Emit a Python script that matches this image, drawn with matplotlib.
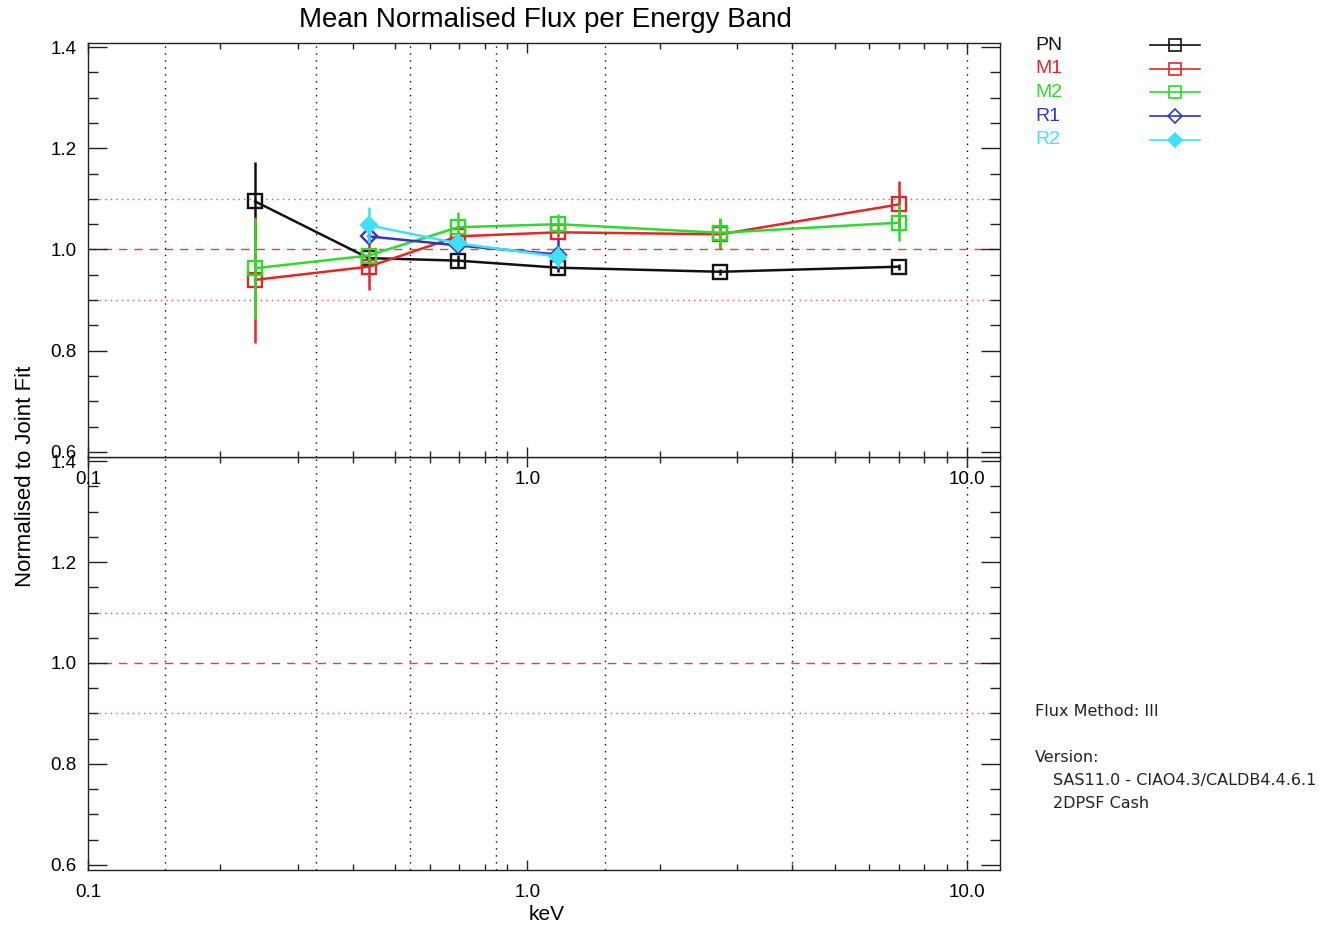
import numpy as np
import matplotlib
matplotlib.use("Agg")
import matplotlib.pyplot as plt
from matplotlib.lines import Line2D
from matplotlib.ticker import LogLocator, FixedLocator, MultipleLocator, NullFormatter

plt.rcParams['font.family'] = ['Liberation Sans', 'DejaVu Sans']

# band edges (keV) and band centres
edges = [0.15, 0.33, 0.54, 0.85, 1.5, 4.0, 10.0]
e_all = [0.24, 0.435, 0.695, 1.175, 2.75, 7.0]
e_rgs = [0.435, 0.695, 1.175]

pn = [1.095, 0.983, 0.978, 0.964, 0.956, 0.966]
pn_err = [0.077, 0.010, 0.012, 0.008, 0.006, 0.006]
m1 = [0.940, 0.966, 1.026, 1.034, 1.030, 1.089]
m1_err = [0.125, 0.047, 0.010, 0.010, 0.030, 0.047]
m2 = [0.963, 0.988, 1.044, 1.050, 1.033, 1.053]
m2_err = [0.100, 0.010, 0.030, 0.020, 0.030, 0.037]
r1 = [1.026, 1.008, 0.990]
r1_err = [0.010, 0.010, 0.030]
r2 = [1.048, 1.012, 0.986]
r2_err = [0.035, 0.010, 0.020]

names = ['PN', 'M1', 'M2', 'R1', 'R2']
cols = ['#111111', '#e02828', '#30d830', '#3434c0', '#40e0f8']
marks = ['s', 's', 's', 'D', 'D']

fig = plt.figure(figsize=(13.28, 9.27), dpi=100)
L, R = 88/1328, 1000/1328
ax1 = fig.add_axes([L, 1-457/927, R-L, (457-43)/927])
ax2 = fig.add_axes([L, 1-870/927, R-L, (870-457)/927])
ax2.patch.set_visible(False)
ax1.set_zorder(3)

for ax in (ax1, ax2):
    ax.set_xscale('log')
    ax.set_xlim(0.1, 11.9)
    ax.set_ylim(0.59, 1.408)
    for e in edges:
        ax.axvline(e, color='black', ls=(0, (1, 4)), lw=1.0, zorder=1)
    ax.axhline(1.1, color='#e05050', ls=(0, (1, 3)), lw=1.0, zorder=1)
    ax.axhline(0.9, color='#e05050', ls=(0, (1, 3)), lw=1.0, zorder=1)
    ax.axhline(1.0, color='#c05050', ls=(0, (6, 5)), lw=1.0, zorder=1)
    ax.xaxis.set_major_locator(FixedLocator([0.1, 1.0, 10.0]))
    ax.set_xticklabels(['0.1', '1.0', '10.0'])
    ax.xaxis.set_minor_locator(LogLocator(base=10, subs=np.arange(2, 10)))
    ax.xaxis.set_minor_formatter(NullFormatter())
    ax.yaxis.set_major_locator(MultipleLocator(0.2))
    ax.yaxis.set_minor_locator(MultipleLocator(0.05))
    ax.tick_params(axis='both', which='both', direction='in', top=True, right=True,
                   labelsize=13.5, color='#222222', width=1.0)
    ax.tick_params(axis='y', which='major', length=14, pad=8)
    ax.tick_params(axis='y', which='minor', length=7)
    ax.tick_params(axis='x', which='major', length=7, pad=10)
    ax.tick_params(axis='x', which='minor', length=4)
    for s in ax.spines.values():
        s.set_linewidth(1.0)
        s.set_color('#222222')
    ax.set_yticks([0.6, 0.8, 1.0, 1.2, 1.4])
    ax.set_yticklabels(['0.6', '0.8', '1.0', '1.2', '1.4'])

series = [(e_all, pn, pn_err), (e_all, m1, m1_err), (e_all, m2, m2_err),
          (e_rgs, r1, r1_err), (e_rgs, r2, r2_err)]
for i, (x, y, err) in enumerate(series):
    ms = 10 if marks[i] == 's' else 8
    fc = cols[i] if names[i] == 'R2' else 'none'
    ax1.errorbar(x, y, yerr=err, color=cols[i], lw=1.8, elinewidth=1.8, capsize=0,
                 marker=marks[i], ms=ms, mfc=fc, mec=cols[i], mew=1.7, zorder=3+i)

fig.text(545/1328, 1-20/927, 'Mean Normalised Flux per Energy Band',
         ha='center', va='center', fontsize=20)
fig.text(26/1328, 1-476/927, 'Normalised to Joint Fit', rotation=90,
         ha='center', va='center', fontsize=16)
fig.text(547/1328, 1-914/927, 'keV', ha='center', va='center', fontsize=15)

# legend
for i, n in enumerate(names):
    yy = 1 - (45 + i*23.7)/927
    fig.text(1035/1328, yy, n, color=cols[i], ha='left', va='center', fontsize=14)
    ms = 9 if marks[i] == 's' else 7
    fc = cols[i] if names[i] == 'R2' else 'none'
    fig.add_artist(Line2D([1150/1328, 1200/1328], [yy, yy], color=cols[i], lw=1.2))
    fig.add_artist(Line2D([1175/1328], [yy], marker=marks[i], ms=ms, mfc=fc,
                          mec=cols[i], mew=1.2, color=cols[i]))

info = [(1035, 711, 'Flux Method: III'), (1035, 758, 'Version:'),
        (1053, 781, 'SAS11.0 - CIAO4.3/CALDB4.4.6.1'), (1053, 804, '2DPSF Cash')]
for x, y, t in info:
    fig.text(x/1328, 1-y/927, t, ha='left', va='center', fontsize=11.5,
             family=['DejaVu Sans'], color='#222222')

fig.savefig('out.png', dpi=100)
